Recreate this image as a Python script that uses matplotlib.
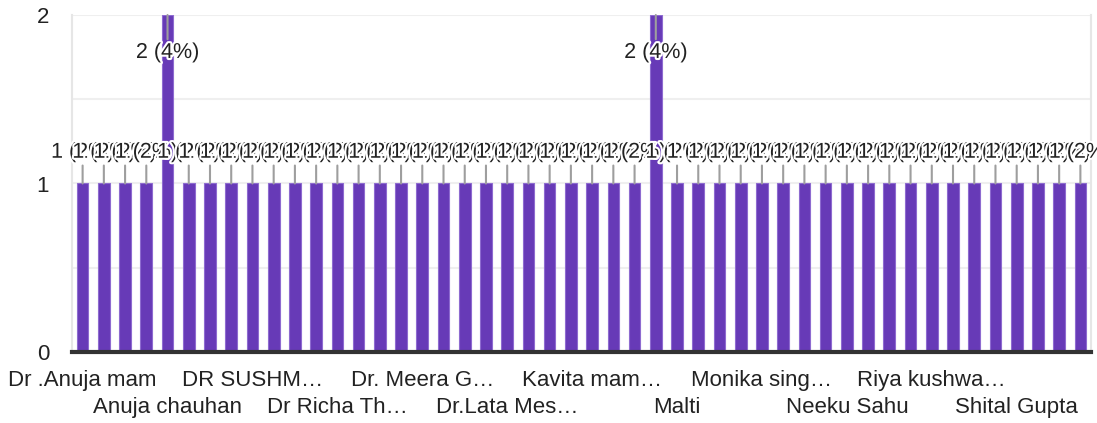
import matplotlib
matplotlib.use("Agg")
import matplotlib.pyplot as plt
import matplotlib.patheffects as pe
import numpy as np

plt.rcParams['font.family'] = ['Liberation Sans', 'DejaVu Sans']

# ---- data ----
values = [1, 1, 1, 1, 2, 1, 1, 1, 1, 1, 1, 1,
          1, 1, 1, 1, 1, 1, 1, 1, 1, 1, 1, 1,
          1, 1, 1, 2, 1, 1, 1, 1, 1, 1, 1, 1,
          1, 1, 1, 1, 1, 1, 1, 1, 1, 1, 1, 1]
shown_labels = ["Dr .Anuja mam", "Anuja chauhan", "DR SUSHM\u2026", "Dr Richa Th\u2026",
                "Dr. Meera G\u2026", "Dr.Lata Mes\u2026", "Kavita mam\u2026", "Malti",
                "Monika sing\u2026", "Neeku Sahu", "Riya kushwa\u2026", "Shital Gupta"]
label_step = 4
yticks = [0, 1, 2]

total = sum(values)
n = len(values)
x = np.arange(n)

W, H = 1097, 423
fig = plt.figure(figsize=(W / 100, H / 100), dpi=100)
ax = fig.add_axes([72 / W, 71 / H, (1091 - 72) / W, (352 - 15) / H])

purple = '#673ab7'
ax.bar(x, values, width=0.55, color=purple, edgecolor='#8e6bd0', linewidth=0.8, zorder=2)

ax.set_xlim(-0.5, n - 0.5)
ax.set_ylim(0, 2)

# grid
for gy in [0.5, 1.0, 1.5, 2.0]:
    ax.axhline(gy, color='#efefef', lw=1.5, zorder=0)

ax.set_yticks(yticks)
ax.set_yticklabels([str(t) for t in yticks], fontsize=16, color='#222222')
ax.tick_params(axis='y', length=0, pad=16.5)

pos = list(range(0, n, label_step))
labs = [l if k % 2 == 0 else "\n" + l for k, l in enumerate(shown_labels)]
ax.set_xticks(pos)
ax.set_xticklabels(labs, fontsize=16, color='#222222', linespacing=1.4)
ax.tick_params(axis='x', length=0, pad=13)

ax.spines['top'].set_visible(False)
ax.spines['left'].set_color('#e6e6e6')
ax.spines['left'].set_linewidth(1.5)
ax.spines['right'].set_color('#e6e6e6')
ax.spines['right'].set_linewidth(1.5)
ax.spines['bottom'].set_color('#333333')
ax.spines['bottom'].set_linewidth(3)
ax.spines['bottom'].set_zorder(5)

halo = [pe.withStroke(linewidth=3, foreground='white')]
ymax = ax.get_ylim()[1]
for i, v in enumerate(values):
    txt = f"{v} ({round(100 * v / total)}%)"
    if v >= ymax:
        ax.annotate(txt, xy=(i, ymax), xytext=(0, -27), textcoords='offset points',
                    ha='center', va='center', fontsize=15.5, color='#222222',
                    path_effects=halo, zorder=4, annotation_clip=False,
                    arrowprops=dict(arrowstyle='-', color='#9e9e9e', lw=1.5,
                                    shrinkA=0, shrinkB=0))
    else:
        ax.annotate(txt, xy=(i, v), xytext=(0, 22.5), textcoords='offset points',
                    ha='center', va='center', fontsize=15.5, color='#222222',
                    path_effects=halo, zorder=4, annotation_clip=False,
                    arrowprops=dict(arrowstyle='-', color='#9e9e9e', lw=1.5,
                                    shrinkA=0, shrinkB=0))

fig.savefig('out.png', dpi=100)
